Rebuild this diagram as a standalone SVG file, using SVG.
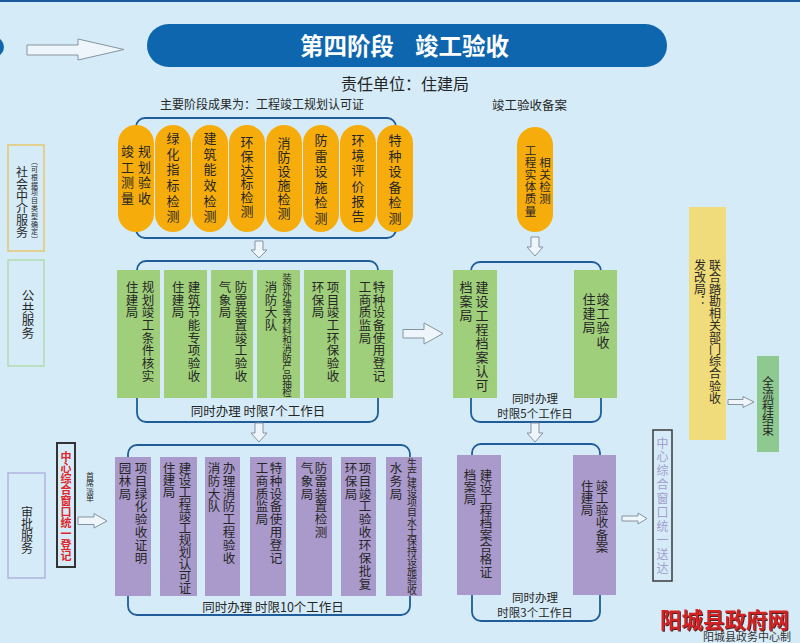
<svg xmlns="http://www.w3.org/2000/svg" width="800" height="643" viewBox="0 0 800 643">
<style>
.t{font-family:"Noto Sans CJK SC","Liberation Sans",sans-serif;fill:#262626;}
.v{writing-mode:vertical-rl;}
.br{fill:none;stroke:#1f5c99;stroke-width:1.8;}
.pill{fill:#f6ad0c;}
.gb{fill:#9fcf7b;}
.pb{fill:#a99acb;}
.arr{fill:#eef6fb;stroke:#8593a0;stroke-width:1;}
.f13{font-size:13px;}
.f125{font-size:12.5px;}
.f12{font-size:12px;}
.f115{font-size:11.5px;}
.c{text-anchor:middle;}
</style>
<defs>
<filter id="sh" x="-5%" y="-20%" width="110%" height="140%">
<feDropShadow dx="1" dy="1" stdDeviation="0.3" flood-color="#3a0a0a" flood-opacity="0.9"/>
</filter>
</defs>
<rect width="800" height="643" fill="#d5ecf8"/>
<rect width="800" height="2" fill="#1a5a9a"/>
<circle cx="-6" cy="47" r="10" fill="#0e67ae"/>

<g id="title">
<rect x="147" y="24" width="520" height="43" rx="21.5" fill="#0e67ae"/>
<text x="300" y="55" class="t" style="font-size:23.5px;font-weight:bold;fill:#fff">第四阶段</text>
<text x="415" y="55" class="t" style="font-size:23.5px;font-weight:bold;fill:#fff">竣工验收</text>
</g>
<g id="headers">
<text x="341" y="90" class="t" style="font-size:16px">责任单位：住建局</text>
<text x="160" y="108.5" class="t f12">主要阶段成果为：工程竣工规划认可证</text>
<text x="492" y="109.5" class="t f125">竣工验收备案</text>
</g>

<g id="side-labels">
<g id="side-agency">
<rect x="8" y="145" width="36" height="106" fill="none" stroke="#e6c66e" stroke-width="1.5"/>
<text x="22" y="166" class="t v f12">社会中介服务</text>
<text x="34.5" y="158" class="t v" style="font-size:7px;letter-spacing:0.8px">（可根据项目类型确定）</text>
</g>
<g id="side-public">
<rect x="8" y="260" width="36" height="106" fill="none" stroke="#b3dbae" stroke-width="1.5"/>
<text x="28" y="289" class="t v f125">公共服务</text>
</g>
<g id="side-approval">
<rect x="8" y="473" width="37" height="105" fill="none" stroke="#b0b2e0" stroke-width="1.5"/>
<text x="27" y="506" class="t v f12">审批服务</text>
</g>
<g id="register">
<rect x="57" y="443" width="18" height="124" fill="none" stroke="#333" stroke-width="2"/>
<text x="66" y="451.5" class="t v" style="font-size:11px;font-weight:bold;fill:#e0262a">中心综合窗口统一登记</text>
<text x="90" y="472" class="t v" style="font-size:8px;letter-spacing:-0.7px">首席派单</text>
</g>
</g>

<g id="orange-group">
<rect x="136" y="118" width="260" height="120" rx="9" class="br"/>
<g id="o1"><rect x="118" y="125" width="36" height="107" rx="18" class="pill"/>
<text x="127.5" y="145" class="t v f13" style="letter-spacing:2.5px">竣工测量</text>
<text x="144.5" y="145" class="t v f13" style="letter-spacing:2.5px">规划验收</text></g>
<g id="o2"><rect x="155" y="125" width="36" height="107" rx="18" class="pill"/>
<text x="173" y="131.5" class="t v f13" style="letter-spacing:2.7px">绿化指标检测</text></g>
<g id="o3"><rect x="192" y="125" width="36" height="107" rx="18" class="pill"/>
<text x="210" y="131.5" class="t v f13" style="letter-spacing:2.7px">建筑能效检测</text></g>
<g id="o4"><rect x="229" y="125" width="36" height="107" rx="18" class="pill"/>
<text x="247" y="135.5" class="t v f13" style="letter-spacing:0.8px">环保达标检测</text></g>
<g id="o5"><rect x="266" y="125" width="36" height="107" rx="18" class="pill"/>
<text x="284" y="136.5" class="t v f13" style="letter-spacing:1px">消防设施检测</text></g>
<g id="o6"><rect x="303" y="125" width="36" height="107" rx="18" class="pill"/>
<text x="321" y="133.5" class="t v f13" style="letter-spacing:2.6px">防雷设施检测</text></g>
<g id="o7"><rect x="340" y="125" width="36" height="107" rx="18" class="pill"/>
<text x="358" y="133.5" class="t v f13" style="letter-spacing:2.2px">环境评价报告</text></g>
<g id="o8"><rect x="377" y="125" width="36" height="107" rx="18" class="pill"/>
<text x="395" y="133.5" class="t v f13" style="letter-spacing:2.6px">特种设备检测</text></g>
</g>

<g id="orange-right">
<rect x="517" y="127" width="36" height="105" rx="18" class="pill"/>
<text x="530.5" y="144.5" class="t v" style="font-size:11.5px;letter-spacing:0.7px">工程实体质量</text>
<text x="545" y="156.5" class="t v" style="font-size:11.5px;letter-spacing:0.7px">相关检测</text>
</g>

<g id="green-group">
<rect x="137" y="261" width="241" height="161" rx="9" class="br"/>
<g id="g1"><rect x="117" y="270" width="43" height="128" class="gb"/>
<text x="132" y="281" class="t v f125" style="letter-spacing:0.2px">住建局</text>
<text x="148" y="281" class="t v f125" style="letter-spacing:0.2px">规划竣工条件核实</text></g>
<g id="g2"><rect x="164" y="270" width="43" height="128" class="gb"/>
<text x="178" y="281" class="t v f125" style="letter-spacing:0.2px">住建局</text>
<text x="194" y="281" class="t v f125" style="letter-spacing:0.2px">建筑节能专项验收</text></g>
<g id="g3"><rect x="211" y="270" width="42" height="128" class="gb"/>
<text x="225" y="281" class="t v f125" style="letter-spacing:0.2px">气象局</text>
<text x="241" y="281" class="t v f125" style="letter-spacing:0.2px">防雷装置竣工验收</text></g>
<g id="g4"><rect x="257" y="270" width="43" height="128" class="gb"/>
<text x="271" y="281" class="t v f125" style="letter-spacing:0.2px">消防大队</text>
<text x="287" y="272.5" class="t v" style="font-size:9.5px;letter-spacing:-0.65px">装饰外墙等材料和消防产品抽检</text></g>
<g id="g5"><rect x="304" y="270" width="42" height="128" class="gb"/>
<text x="318" y="281" class="t v f125" style="letter-spacing:0.2px">环保局</text>
<text x="333" y="281" class="t v f125" style="letter-spacing:0.2px">项目竣工环保验收</text></g>
<g id="g6"><rect x="350" y="270" width="43" height="128" class="gb"/>
<text x="365" y="281" class="t v f125" style="letter-spacing:0.2px">工商质监局</text>
<text x="379" y="281" class="t v f125" style="letter-spacing:0.2px">特种设备使用登记</text></g>
<text x="258" y="415.5" class="t c f125">同时办理 时限7个工作日</text>
</g>

<g id="archive-green">
<rect x="471" y="262" width="130" height="160" rx="9" class="br"/>
<g id="ag1"><rect x="453" y="270" width="44" height="128" class="gb"/>
<text x="466" y="280.5" class="t v f13" style="letter-spacing:1px">档案局</text>
<text x="482" y="280.5" class="t v f13" style="letter-spacing:1px">建设工程档案认可</text></g>
<g id="ag2"><rect x="574" y="270" width="43" height="128" class="gb"/>
<text x="589" y="292.5" class="t v f13" style="letter-spacing:1.2px">住建局</text>
<text x="603" y="292.5" class="t v f13" style="letter-spacing:1.2px">竣工验收</text></g>
<text class="t c f115"><tspan x="535" y="402.5">同时办理</tspan><tspan x="535" y="418">时限5个工作日</tspan></text>
</g>

<g id="purple-group">
<rect x="128" y="445" width="282" height="170" rx="9" class="br"/>
<g id="p1"><rect x="115" y="457" width="36" height="139" class="pb"/>
<text x="125" y="461.75" class="t v f125" style="letter-spacing:0.4px">园林局</text>
<text x="141" y="461.75" class="t v f125" style="letter-spacing:0.4px">项目绿化验收证明</text></g>
<g id="p2"><rect x="160" y="457" width="37" height="139" class="pb"/>
<text x="169" y="461.75" class="t v f125" style="letter-spacing:-0.5px">住建局</text>
<text x="185" y="461.75" class="t v f125" style="letter-spacing:-0.5px">建设工程竣工规划认可证</text></g>
<g id="p3"><rect x="205" y="457" width="35" height="139" class="pb"/>
<text x="214" y="461.75" class="t v f125" style="letter-spacing:0.4px">消防大队</text>
<text x="229" y="461.75" class="t v f125" style="letter-spacing:0.4px">办理消防工程验收</text></g>
<g id="p4"><rect x="250" y="457" width="36" height="139" class="pb"/>
<text x="262" y="461.75" class="t v f125" style="letter-spacing:0.4px">工商质监局</text>
<text x="276" y="461.75" class="t v f125" style="letter-spacing:0.4px">特种设备使用登记</text></g>
<g id="p5"><rect x="296" y="457" width="36" height="139" class="pb"/>
<text x="307" y="461.75" class="t v f125" style="letter-spacing:0.4px">气象局</text>
<text x="321" y="461.75" class="t v f125" style="letter-spacing:0.4px">防雷装置检测</text></g>
<g id="p6"><rect x="341" y="457" width="35" height="139" class="pb"/>
<text x="351" y="461.75" class="t v f125" style="letter-spacing:0.4px">环保局</text>
<text x="365" y="461.75" class="t v f125" style="letter-spacing:0.4px">项目竣工验收环保批复</text></g>
<g id="p7"><rect x="386" y="457" width="36" height="139" class="pb"/>
<text x="396" y="461.75" class="t v f125" style="letter-spacing:0.4px">水务局</text>
<text x="412" y="458" class="t v" style="font-size:10px;letter-spacing:-0.2px">生产建设项目水土保持设施验收</text></g>
<text x="273" y="611.5" class="t c f125">同时办理 时限10个工作日</text>
</g>

<g id="purple-right">
<rect x="472" y="444" width="128" height="177" rx="9" class="br"/>
<g id="pr1"><rect x="457" y="455" width="44" height="140" class="pb"/>
<text x="470" y="468.75" class="t v f125" style="letter-spacing:-0.4px">档案局</text>
<text x="486" y="468.75" class="t v f125" style="letter-spacing:-0.4px">建设工程档案合格证</text></g>
<g id="pr2"><rect x="573" y="455" width="43" height="140" class="pb"/>
<text x="587" y="479.75" class="t v f125" style="letter-spacing:-0.3px">住建局</text>
<text x="602" y="479.75" class="t v f125" style="letter-spacing:-0.3px">竣工验收备案</text></g>
<text class="t c f115"><tspan x="535" y="601.5">同时办理</tspan><tspan x="535" y="617">时限3个工作日</tspan></text>
</g>

<g id="deliver">
<rect x="653" y="430" width="19" height="151" fill="none" stroke="#3a3a3a" stroke-width="1.5"/>
<text x="662.5" y="437" class="t v f12" style="fill:#a49ccd;letter-spacing:1.9px">中心综合窗口统一送达</text>
</g>

<g id="joint">
<rect x="689" y="207" width="37" height="233" fill="#f0dc7a"/>
<text x="700" y="259" class="t v f12" style="letter-spacing:0.3px">发改局：</text>
<text x="715" y="259" class="t v f12" style="letter-spacing:0.1px">联合踏勘相关部门综合验收</text>
</g>

<g id="end">
<rect x="757" y="356" width="22" height="96" fill="#8ec98f"/>
<text x="768" y="376" class="t v f12">全流程结束</text>
</g>

<g id="connectors">
<path class="arr" d="M27,45 H78 V39 L124,49.5 L78,60 V55 H27 Z"/>
<path class="arr" d="M403,329.5 H424 V323 L443,333.5 L424,344 V338 H403 Z"/>
<path class="arr" d="M78,517 H94 V513.5 L107,521 L94,528 V524.5 H78 Z"/>
<path class="arr" d="M622,516 H638 V513 L647,518.5 L638,524 V521 H622 Z"/>
<path class="arr" d="M728,399.5 H743 V396.5 L754,402 L743,407.5 V404.5 H728 Z"/>
<path class="arr" d="M255,241 H263 V250 H267 L259,258 L251,250 H255 Z"/>
<path class="arr" d="M531,237 H539 V247 H543 L535,256 L527,247 H531 Z"/>
<path class="arr" d="M255,423 H263 V433 H267 L259,442 L251,433 H255 Z"/>
<path class="arr" d="M531,423 H539 V433 H543 L535,442 L527,433 H531 Z"/>
</g>

<g id="watermark">
<text x="703" y="641" class="t" style="font-size:11px;fill:#333">阳城县政务中心制</text>
<text x="660" y="628" class="t" filter="url(#sh)" style="font-size:21.5px;font-weight:bold;fill:#d42222">阳城县政府网</text>
</g>
</svg>
